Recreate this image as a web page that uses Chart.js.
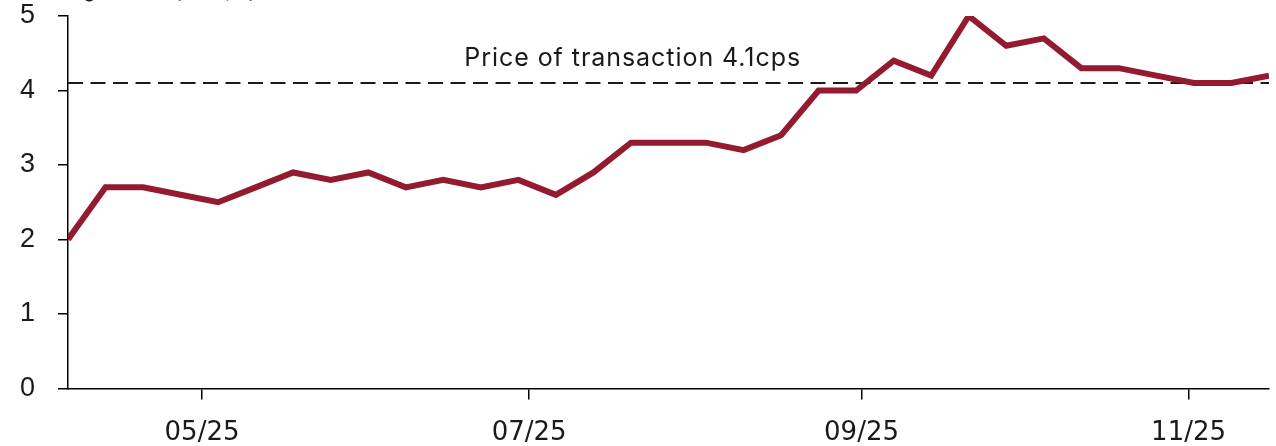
<!DOCTYPE html>
<html>
<head>
<meta charset="utf-8">
<script src="https://cdn.jsdelivr.net/npm/chart.js@4.4.1/dist/chart.umd.min.js"></script>
<style>
  html, body { margin: 0; padding: 0; background: #ffffff; }
  #wrap { width: 1276px; height: 446px; position: relative; }
</style>
</head>
<body>
<div id="wrap"><canvas id="c" width="1276" height="446"></canvas></div>
<script>
// ---- Data ----
const dates = [
  '2025-04-06','2025-04-13','2025-04-20','2025-04-27',
  '2025-05-04','2025-05-11','2025-05-18','2025-05-25',
  '2025-06-01','2025-06-08','2025-06-15','2025-06-22','2025-06-29',
  '2025-07-06','2025-07-13','2025-07-20','2025-07-27',
  '2025-08-03','2025-08-10','2025-08-17','2025-08-24','2025-08-31',
  '2025-09-07','2025-09-14','2025-09-21','2025-09-28',
  '2025-10-05','2025-10-12','2025-10-19','2025-10-26',
  '2025-11-02','2025-11-09','2025-11-16'
];
const sharePrice = [
  2.0, 2.7, 2.7, 2.6,
  2.5, 2.7, 2.9, 2.8,
  2.9, 2.7, 2.8, 2.7, 2.8,
  2.6, 2.9, 3.3, 3.3,
  3.3, 3.2, 3.4, 4.0, 4.0,
  4.4, 4.2, 5.0, 4.6,
  4.7, 4.3, 4.3, 4.2,
  4.1, 4.1, 4.2
];
const transactionPrice = 4.1;
const transactionLabel = 'Price of transaction 4.1cps';
const axisUnitLabel = '(Target share price, cps)';
const tickDates = ['2025-05-01','2025-07-01','2025-09-01','2025-11-01'];
const tickLabels = ['05/25','07/25','09/25','11/25'];
const yTicks = [0, 1, 2, 3, 4, 5];

// ---- Helpers ----
const DAY = 86400000;
const t0 = Date.parse(dates[0] + 'T00:00:00Z');
const dayOf = s => Math.round((Date.parse(s + 'T00:00:00Z') - t0) / DAY);
const xMin = dayOf(dates[0]);
const xMax = dayOf(dates[dates.length - 1]);
const seriesPoints = dates.map((d, i) => ({ x: dayOf(d), y: sharePrice[i] }));
const refPoints = [{ x: xMin, y: transactionPrice }, { x: xMax, y: transactionPrice }];
const tickDays = tickDates.map(dayOf);

const textPlugin = {
  id: 'texts',
  afterDatasetsDraw(chart) {
    const { ctx, scales } = chart;
    const xs = scales.x, ys = scales.y;
    ctx.save();
    ctx.fillStyle = '#1a1a1a';
    ctx.font = '25px Inter, "Open Sans", sans-serif';
    try { ctx.letterSpacing = '0.95px'; } catch (e) {}
    ctx.textAlign = 'left';
    ctx.textBaseline = 'alphabetic';
    ctx.fillText(transactionLabel, xs.getPixelForValue(73.9), ys.getPixelForValue(transactionPrice) - 17);
    try { ctx.letterSpacing = '0px'; } catch (e) {}
    ctx.font = '20px Inter, sans-serif';
    ctx.fillText(axisUnitLabel, 46, -3.5);
    ctx.restore();
  }
};

new Chart(document.getElementById('c'), {
  type: 'line',
  data: {
    datasets: [
      {
        data: seriesPoints,
        borderColor: '#941B2F',
        borderWidth: 6,
        pointRadius: 0,
        tension: 0,
        fill: false,
        order: 1
      },
      {
        data: refPoints,
        borderColor: '#1a1a1a',
        borderWidth: 2,
        borderDash: [15, 7.5],
        pointRadius: 0,
        tension: 0,
        fill: false,
        order: 2
      }
    ]
  },
  options: {
    responsive: false,
    animation: false,
    events: [],
    layout: { padding: { top: 16, right: 7, left: 0, bottom: 0 } },
    plugins: { legend: { display: false }, tooltip: { enabled: false }, title: { display: false } },
    scales: {
      x: {
        type: 'linear',
        min: xMin,
        max: xMax,
        afterBuildTicks(scale) { scale.ticks = tickDays.map(v => ({ value: v })); },
        afterFit(scale) { scale.height = 57.5; scale.paddingLeft = 0; scale.paddingRight = 0; },
        grid: { drawOnChartArea: false, drawTicks: true, tickLength: 11, color: '#000', lineWidth: 1.5 },
        border: { display: true, color: '#000', width: 1.5 },
        ticks: {
          autoSkip: false,
          maxRotation: 0,
          padding: 18,
          color: '#1a1a1a',
          font: { family: '"DejaVu Sans"', size: 26 },
          callback: (v) => { const i = tickDays.indexOf(v); return i >= 0 ? tickLabels[i] : ''; }
        }
      },
      y: {
        min: 0,
        max: 5,
        afterBuildTicks(scale) { scale.ticks = yTicks.map(v => ({ value: v })); },
        afterFit(scale) { scale.width = 68; scale.paddingTop = 0; scale.paddingBottom = 0; },
        grid: { drawOnChartArea: false, drawTicks: true, tickLength: 10, color: '#000', lineWidth: 1.5 },
        border: { display: true, color: '#000', width: 1.5 },
        ticks: {
          padding: 23,
          color: '#1a1a1a',
          font: { family: '"Liberation Sans"', size: 27 },
          callback: (v) => String(v)
        }
      }
    }
  },
  plugins: [textPlugin]
});
</script>
</body>
</html>
